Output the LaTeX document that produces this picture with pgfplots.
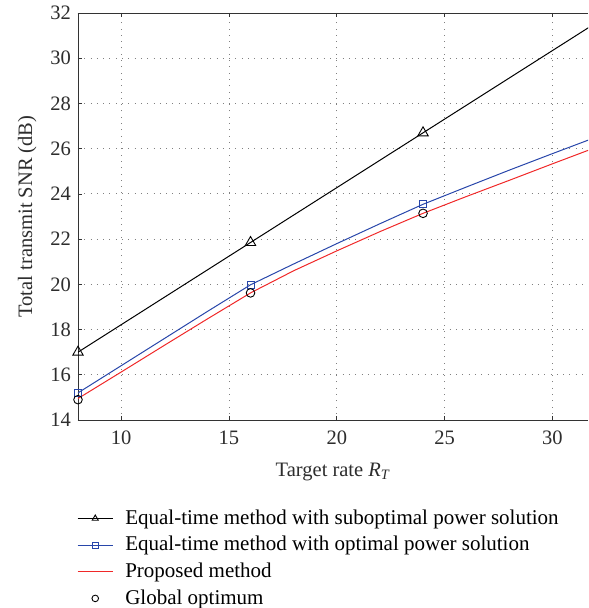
\documentclass[border=0pt]{standalone}
\usepackage{fontspec}
\setmainfont{Liberation Serif}
\usepackage{pgfplots}
\pgfplotsset{compat=1.18}
\definecolor{myblue}{RGB}{40,70,170}
\definecolor{myred}{RGB}{240,40,40}
\definecolor{txt}{RGB}{45,45,45}
\pgfplotsset{
  legline/.style={legend image code/.code={\draw[##1, mark repeat=2, mark phase=2] plot coordinates {(0pt,0pt) (17.5pt,0pt) (35pt,0pt)}; \path (45pt,0pt);}},
  legred/.style={legend image code/.code={\draw[color=myred, draw=myred, line width=1.1pt] (0pt,0pt) -- (35pt,0pt); \path (45pt,0pt);}},
  legmark/.style={legend image code/.code={\draw[##1] plot coordinates {(17.5pt,0pt)}; \path (0pt,0pt) (45pt,0pt);}},
}
\begin{document}
\fontsize{20.5}{24}\selectfont
\begin{tikzpicture}
\useasboundingbox (-78pt,-188pt) rectangle (511pt,420pt);
\begin{axis}[
  scale only axis, width=510pt, height=407pt,
  xmin=8, xmax=31.65, ymin=14, ymax=32,
  axis y line*=left, axis x line*=box,
  tick align=inside,
  xtick={10,15,20,25,30}, ytick={14,16,...,32},
  major tick length=4pt,
  tick style={black!80, line width=0.6pt},
  axis line style={black!80, line width=0.8pt},
  grid=major,
  major grid style={gray, line width=0.8pt, dash pattern=on 0.8pt off 5.5pt},
  /pgf/number format/assume math mode=true,
  ticklabel style={font=\fontsize{20.5}{24}\selectfont, text=txt},
  xticklabel style={yshift=-4pt},
  label style={font=\fontsize{20.5}{24}\selectfont, text=txt},
  xlabel style={yshift=-4pt},
  xlabel={Target rate \textit{R}\textsubscript{\textit{T}}},
  ylabel={Total transmit SNR (dB)},
  legend style={draw=none, fill=none, at={(axis description cs:0,-0.21)}, anchor=north west, xshift=-1pt,
    font=\fontsize{21}{24}\selectfont, row sep=5pt, inner xsep=0pt},
  legend cell align=left,
]
\addlegendimage{legline, black, line width=1pt, mark=triangle, mark size=3.5pt, mark options={solid, line width=0.9pt}}
\addlegendentry{Equal-time method with suboptimal power solution}
\addlegendimage{legline, myblue, line width=1pt, mark=square, mark size=3pt, mark options={line width=0.8pt}}
\addlegendentry{Equal-time method with optimal power solution}
\addlegendimage{legred, myred, line width=1.1pt}
\addlegendentry{Proposed method}
\addlegendimage{legmark, black, only marks, mark=o, mark size=3.3pt, mark options={line width=0.9pt}}
\addlegendentry{Global optimum}
\addplot[black, line width=1pt, mark=triangle, mark size=6pt, mark options={solid, line width=0.9pt}, forget plot] coordinates {
  (8,17.0) (16,21.85) (24,26.7) (32,31.55)};
\addplot[myblue, line width=1pt, mark=square, mark size=3.5pt, mark repeat=4, mark options={line width=0.8pt}, forget plot] coordinates {
  (8,15.2) (10,16.4) (12,17.6) (14,18.8) (16,19.98) (18,20.9) (20,21.8) (22,22.68) (24,23.54) (26,24.3) (28,25.05) (30,25.78) (32,26.5)};
\addplot[myred, line width=1pt, forget plot] coordinates {
  (8,14.95) (10,16.12) (12,17.3) (14,18.47) (16,19.62) (18,20.6) (20,21.48) (22,22.33) (24,23.14) (26,23.88) (28,24.6) (30,25.33) (32,26.05)};
\addplot[black, only marks, mark=o, mark size=4.3pt, mark options={line width=0.9pt}, forget plot] coordinates {
  (8,14.9) (16,19.62) (24,23.14)};
\end{axis}
\end{tikzpicture}
\end{document}
